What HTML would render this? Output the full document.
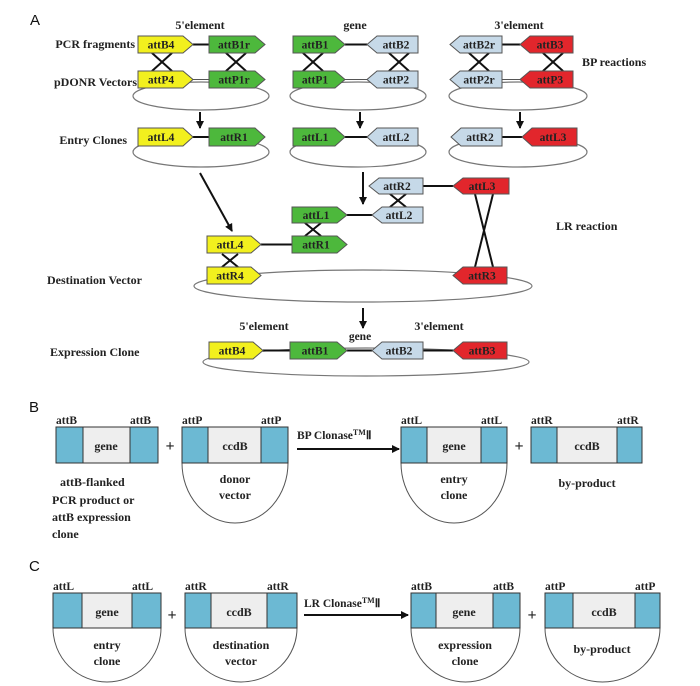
<!DOCTYPE html>
<html><head><meta charset="utf-8"><style>
html,body{margin:0;padding:0;background:#fff}
svg{display:block}
text{font-family:"Liberation Serif",serif;font-weight:bold;fill:#222}
.l{font-size:11.5px}
.s{font-size:12px}
.h{font-family:"Liberation Sans",sans-serif;font-weight:normal;font-size:15px;fill:#111}
.y{fill:#f2f01e;stroke:#555;stroke-width:1}
.g{fill:#4db83c;stroke:#555;stroke-width:1}
.b{fill:#c6d9e8;stroke:#555;stroke-width:1}
.r{fill:#e2262c;stroke:#555;stroke-width:1}
.e{fill:none;stroke:#777;stroke-width:1.2}
.k{stroke:#111;stroke-width:2}
.t{stroke:#555;stroke-width:1}
.bl{fill:#6cb9d3;stroke:#333;stroke-width:1}
.gr{fill:#eeeeee;stroke:#333;stroke-width:1}
.arc{fill:#fff;stroke:#555;stroke-width:1}
</style></head><body>
<svg width="700" height="686" viewBox="0 0 700 686" xmlns="http://www.w3.org/2000/svg">
<defs><marker id="ah" markerWidth="8" markerHeight="8" refX="7" refY="4" orient="auto" markerUnits="userSpaceOnUse"><path d="M0,0 L8,4 L0,8 z" fill="#111"/></marker></defs>

<!-- A -->
<text class="h" x="30" y="25">A</text>
<text class="s" x="200" y="29" text-anchor="middle">5'element</text>
<text class="s" x="355" y="29" text-anchor="middle">gene</text>
<text class="s" x="519" y="29" text-anchor="middle">3'element</text>
<text class="s" x="135" y="48" text-anchor="end">PCR fragments</text>
<text class="s" x="137" y="86" text-anchor="end">pDONR Vectors</text>
<text class="s" x="127" y="144" text-anchor="end">Entry Clones</text>
<text class="s" x="582" y="66">BP reactions</text>

<!-- ellipses row2 -->
<ellipse class="e" cx="201" cy="96" rx="68" ry="14"/>
<ellipse class="e" cx="358" cy="96" rx="68" ry="14"/>
<ellipse class="e" cx="518" cy="96" rx="69" ry="14"/>
<ellipse class="e" cx="201" cy="152" rx="68" ry="15"/>
<ellipse class="e" cx="358" cy="152" rx="68" ry="15"/>
<ellipse class="e" cx="518" cy="152" rx="69" ry="15"/>

<!-- row1 lines -->
<line class="k" x1="193" y1="44.5" x2="209" y2="44.5"/>
<line class="k" x1="345" y1="44.5" x2="367" y2="44.5"/>
<line class="k" x1="502" y1="44.5" x2="520" y2="44.5"/>
<line class="t" x1="193" y1="79.5" x2="209" y2="79.5"/>
<line class="t" x1="345" y1="79.5" x2="367" y2="79.5"/>
<line class="t" x1="502" y1="79.5" x2="520" y2="79.5"/>
<line class="k" x1="193" y1="137" x2="209" y2="137"/>
<line class="k" x1="345" y1="137" x2="367" y2="137"/>
<line class="k" x1="502" y1="137" x2="522" y2="137"/>

<!-- crosses -->
<g class="k">
<line x1="152" y1="53" x2="172" y2="71"/><line x1="172" y1="53" x2="152" y2="71"/>
<line x1="226" y1="53" x2="246" y2="71"/><line x1="246" y1="53" x2="226" y2="71"/>
<line x1="303" y1="53" x2="323" y2="71"/><line x1="323" y1="53" x2="303" y2="71"/>
<line x1="389" y1="53" x2="409" y2="71"/><line x1="409" y1="53" x2="389" y2="71"/>
<line x1="469" y1="53" x2="489" y2="71"/><line x1="489" y1="53" x2="469" y2="71"/>
<line x1="543" y1="53" x2="563" y2="71"/><line x1="563" y1="53" x2="543" y2="71"/>
</g>

<!-- row1 -->
<polygon class="y" points="138,36 183,36 193,44.5 183,53 138,53"/><text class="l" x="161" y="48.5" text-anchor="middle">attB4</text>
<polygon class="g" points="209,36 255,36 265,44.5 255,53 209,53"/><text class="l" x="234" y="48.5" text-anchor="middle">attB1r</text>
<polygon class="g" points="293,36 335,36 345,44.5 335,53 293,53"/><text class="l" x="315" y="48.5" text-anchor="middle">attB1</text>
<polygon class="b" points="377,36 418,36 418,53 377,53 367,44.5"/><text class="l" x="396" y="48.5" text-anchor="middle">attB2</text>
<polygon class="b" points="460,36 502,36 502,53 460,53 450,44.5"/><text class="l" x="479" y="48.5" text-anchor="middle">attB2r</text>
<polygon class="r" points="530,36 573,36 573,53 530,53 520,44.5"/><text class="l" x="550" y="48.5" text-anchor="middle">attB3</text>
<!-- row2 -->
<polygon class="y" points="138,71 183,71 193,79.5 183,88 138,88"/><text class="l" x="161" y="83.5" text-anchor="middle">attP4</text>
<polygon class="g" points="209,71 255,71 265,79.5 255,88 209,88"/><text class="l" x="234" y="83.5" text-anchor="middle">attP1r</text>
<polygon class="g" points="293,71 335,71 345,79.5 335,88 293,88"/><text class="l" x="315" y="83.5" text-anchor="middle">attP1</text>
<polygon class="b" points="377,71 418,71 418,88 377,88 367,79.5"/><text class="l" x="396" y="83.5" text-anchor="middle">attP2</text>
<polygon class="b" points="460,71 502,71 502,88 460,88 450,79.5"/><text class="l" x="479" y="83.5" text-anchor="middle">attP2r</text>
<polygon class="r" points="530,71 573,71 573,88 530,88 520,79.5"/><text class="l" x="550" y="83.5" text-anchor="middle">attP3</text>
<!-- entry -->
<polygon class="y" points="138,128 183,128 193,137 183,146 138,146"/><text class="l" x="161" y="141" text-anchor="middle">attL4</text>
<polygon class="g" points="209,128 255,128 265,137 255,146 209,146"/><text class="l" x="234" y="141" text-anchor="middle">attR1</text>
<polygon class="g" points="293,128 335,128 345,137 335,146 293,146"/><text class="l" x="315" y="141" text-anchor="middle">attL1</text>
<polygon class="b" points="377,128 418,128 418,146 377,146 367,137"/><text class="l" x="396" y="141" text-anchor="middle">attL2</text>
<polygon class="b" points="461,128 502,128 502,146 461,146 451,137"/><text class="l" x="480" y="141" text-anchor="middle">attR2</text>
<polygon class="r" points="532,128 577,128 577,146 532,146 522,137"/><text class="l" x="553" y="141" text-anchor="middle">attL3</text>

<!-- arrows -->
<g class="k" marker-end="url(#ah)">
<line x1="200" y1="112" x2="200" y2="128"/>
<line x1="360" y1="112" x2="360" y2="128"/>
<line x1="520" y1="112" x2="520" y2="128"/>
<line x1="200" y1="173" x2="232" y2="231"/>
<line x1="363" y1="172" x2="363" y2="204"/>
<line x1="363" y1="308" x2="363" y2="328"/>
</g>

<!-- LR -->
<text class="s" x="556" y="230">LR reaction</text>
<text class="s" x="47" y="284">Destination Vector</text>
<ellipse class="e" cx="363" cy="286" rx="169" ry="16"/>
<line class="k" x1="423" y1="186" x2="453" y2="186"/>
<line class="k" x1="347" y1="215" x2="372" y2="215"/>
<line class="k" x1="261" y1="244.5" x2="292" y2="244.5"/>
<g class="k">
<line x1="390" y1="194" x2="406" y2="207"/><line x1="406" y1="194" x2="390" y2="207"/>
<line x1="305" y1="223" x2="321" y2="236"/><line x1="321" y1="223" x2="305" y2="236"/>
<line x1="222" y1="254" x2="238" y2="267"/><line x1="238" y1="254" x2="222" y2="267"/>
<line x1="475" y1="194" x2="493" y2="267"/><line x1="493" y1="194" x2="475" y2="267"/>
</g>
<polygon class="b" points="379,178 423,178 423,194 379,194 369,186"/><text class="l" x="397" y="190" text-anchor="middle">attR2</text>
<polygon class="r" points="463,178 509,178 509,194 463,194 453,186"/><text class="l" x="482" y="190" text-anchor="middle">attL3</text>
<polygon class="g" points="292,207 337,207 347,215 337,223 292,223"/><text class="l" x="316" y="219" text-anchor="middle">attL1</text>
<polygon class="b" points="382,207 423,207 423,223 382,223 372,215"/><text class="l" x="399" y="219" text-anchor="middle">attL2</text>
<polygon class="y" points="207,236 251,236 261,244.5 251,253 207,253"/><text class="l" x="230" y="248.5" text-anchor="middle">attL4</text>
<polygon class="g" points="292,236 337,236 347,244.5 337,253 292,253"/><text class="l" x="316" y="248.5" text-anchor="middle">attR1</text>
<polygon class="y" points="207,267 251,267 261,275.5 251,284 207,284"/><text class="l" x="230" y="279.5" text-anchor="middle">attR4</text>
<polygon class="r" points="463,267 507,267 507,284 463,284 453,275.5"/><text class="l" x="482" y="279.5" text-anchor="middle">attR3</text>

<!-- Expression -->
<text class="s" x="50" y="356">Expression Clone</text>
<text class="s" x="264" y="330" text-anchor="middle">5'element</text>
<text class="s" x="439" y="330" text-anchor="middle">3'element</text>
<text class="l" x="360" y="340" text-anchor="middle">gene</text>
<ellipse class="e" cx="366" cy="362" rx="163" ry="14"/>
<line class="k" x1="263" y1="350.5" x2="290" y2="350.5"/>
<line class="k" x1="347" y1="350.5" x2="372" y2="350.5"/>
<line class="k" x1="423" y1="350.5" x2="453" y2="350.5"/>
<polygon class="y" points="209,342 253,342 263,350.5 253,359 209,359"/><text class="l" x="232" y="354.5" text-anchor="middle">attB4</text>
<polygon class="g" points="290,342 337,342 347,350.5 337,359 290,359"/><text class="l" x="315" y="354.5" text-anchor="middle">attB1</text>
<polygon class="b" points="382,342 423,342 423,359 382,359 372,350.5"/><text class="l" x="399" y="354.5" text-anchor="middle">attB2</text>
<polygon class="r" points="463,342 507,342 507,359 463,359 453,350.5"/><text class="l" x="482" y="354.5" text-anchor="middle">attB3</text>

<!-- B -->
<text class="h" x="29" y="412">B</text>
<path class="arc" d="M182,463 A53,60 0 0 0 288,463 Z"/>
<path class="arc" d="M401,463 A53,60 0 0 0 507,463 Z"/>
<rect class="gr" x="56" y="427" width="102" height="36"/><rect class="bl" x="56" y="427" width="27" height="36"/><rect class="bl" x="130" y="427" width="28" height="36"/>
<text class="s" x="106" y="450" text-anchor="middle">gene</text>
<rect class="gr" x="182" y="427" width="106" height="36"/><rect class="bl" x="182" y="427" width="26" height="36"/><rect class="bl" x="261" y="427" width="27" height="36"/>
<text class="s" x="235" y="450" text-anchor="middle">ccdB</text>
<rect class="gr" x="401" y="427" width="106" height="36"/><rect class="bl" x="401" y="427" width="26" height="36"/><rect class="bl" x="481" y="427" width="26" height="36"/>
<text class="s" x="454" y="450" text-anchor="middle">gene</text>
<rect class="gr" x="531" y="427" width="111" height="36"/><rect class="bl" x="531" y="427" width="26" height="36"/><rect class="bl" x="617" y="427" width="25" height="36"/>
<text class="s" x="587" y="450" text-anchor="middle">ccdB</text>
<g class="l"><text x="56" y="424">attB</text><text x="130" y="424">attB</text><text x="182" y="424">attP</text><text x="261" y="424">attP</text><text x="401" y="424">attL</text><text x="481" y="424">attL</text><text x="531" y="424">attR</text><text x="617" y="424">attR</text></g>
<text class="s" x="170" y="451" text-anchor="middle" style="font-size:16px">+</text>
<text class="s" x="519" y="451" text-anchor="middle" style="font-size:16px">+</text>
<line class="k" x1="297" y1="449" x2="399" y2="449" marker-end="url(#ah)"/>
<text class="l" x="297" y="439">BP Clonase<tspan font-size="8" dy="-4">TM</tspan><tspan dy="4">Ⅱ</tspan></text>
<text class="s" x="235" y="483" text-anchor="middle">donor</text><text class="s" x="235" y="499" text-anchor="middle">vector</text>
<text class="s" x="454" y="483" text-anchor="middle">entry</text><text class="s" x="454" y="499" text-anchor="middle">clone</text>
<text class="s" x="587" y="487" text-anchor="middle">by-product</text>
<text class="s" x="60" y="486">attB-flanked</text>
<text class="s" x="52" y="504">PCR product or</text>
<text class="s" x="52" y="521">attB expression</text>
<text class="s" x="52" y="538">clone</text>

<!-- C -->
<text class="h" x="29" y="571">C</text>
<path class="arc" d="M53,628 A54,54 0 0 0 161,628 Z"/>
<path class="arc" d="M185,628 A56,54 0 0 0 297,628 Z"/>
<path class="arc" d="M411,628 A54.5,54 0 0 0 520,628 Z"/>
<path class="arc" d="M545,628 A57.5,54 0 0 0 660,628 Z"/>
<rect class="gr" x="53" y="593" width="108" height="35"/><rect class="bl" x="53" y="593" width="29" height="35"/><rect class="bl" x="132" y="593" width="29" height="35"/>
<text class="s" x="107" y="616" text-anchor="middle">gene</text>
<rect class="gr" x="185" y="593" width="112" height="35"/><rect class="bl" x="185" y="593" width="26" height="35"/><rect class="bl" x="267" y="593" width="30" height="35"/>
<text class="s" x="239" y="616" text-anchor="middle">ccdB</text>
<rect class="gr" x="411" y="593" width="109" height="35"/><rect class="bl" x="411" y="593" width="25" height="35"/><rect class="bl" x="493" y="593" width="27" height="35"/>
<text class="s" x="464" y="616" text-anchor="middle">gene</text>
<rect class="gr" x="545" y="593" width="115" height="35"/><rect class="bl" x="545" y="593" width="28" height="35"/><rect class="bl" x="635" y="593" width="25" height="35"/>
<text class="s" x="604" y="616" text-anchor="middle">ccdB</text>
<g class="l"><text x="53" y="590">attL</text><text x="132" y="590">attL</text><text x="185" y="590">attR</text><text x="267" y="590">attR</text><text x="411" y="590">attB</text><text x="493" y="590">attB</text><text x="545" y="590">attP</text><text x="635" y="590">attP</text></g>
<text class="s" x="172" y="620" text-anchor="middle" style="font-size:16px">+</text>
<text class="s" x="532" y="620" text-anchor="middle" style="font-size:16px">+</text>
<line class="k" x1="304" y1="615" x2="408" y2="615" marker-end="url(#ah)"/>
<text class="l" x="304" y="607">LR Clonase<tspan font-size="8" dy="-4">TM</tspan><tspan dy="4">Ⅱ</tspan></text>
<text class="s" x="107" y="649" text-anchor="middle">entry</text><text class="s" x="107" y="665" text-anchor="middle">clone</text>
<text class="s" x="241" y="649" text-anchor="middle">destination</text><text class="s" x="241" y="665" text-anchor="middle">vector</text>
<text class="s" x="465" y="649" text-anchor="middle">expression</text><text class="s" x="465" y="665" text-anchor="middle">clone</text>
<text class="s" x="602" y="653" text-anchor="middle">by-product</text>
</svg>
</body></html>
